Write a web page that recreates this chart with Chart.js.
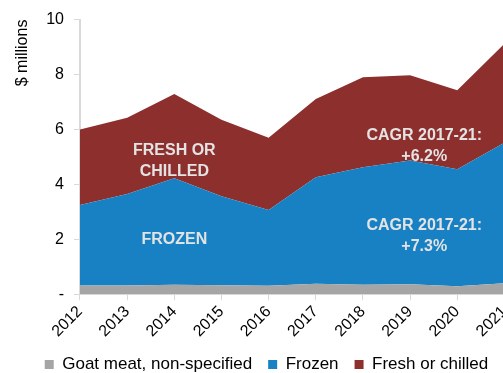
<!DOCTYPE html>
<html>
<head>
<meta charset="utf-8">
<script src="https://cdn.jsdelivr.net/npm/chart.js@4"></script>
<style>
  html, body { margin: 0; padding: 0; background: #fff; overflow: hidden; }
  #wrap { width: 503px; height: 373px; overflow: hidden; }
  #box { width: 520px; height: 373px; }
</style>
</head>
<body>
<div id="wrap"><div id="box"><canvas id="myChart"></canvas></div></div>
<script>
const years = ['2012', '2013', '2014', '2015', '2016', '2017', '2018', '2019', '2020', '2021'];
const goatOther = [0.32, 0.32, 0.35, 0.33, 0.31, 0.38, 0.35, 0.36, 0.29, 0.40];
const frozen = [2.93, 3.33, 3.87, 3.24, 2.76, 3.88, 4.27, 4.51, 4.26, 5.12];
const freshChilled = [2.75, 2.78, 3.07, 2.78, 2.63, 2.85, 3.28, 3.10, 2.88, 3.60];
const yTicks = [0, 2, 4, 6, 8, 10];

// text written inside the areas: [x index, y value, lines]
const areaLabels = [
    [2, 4.85, ['FRESH OR', 'CHILLED']],
    [2, 2.0, ['FROZEN']],
    [7.3, 5.4, ['CAGR 2017-21:', '+6.2%']],
    [7.3, 2.1, ['CAGR 2017-21:', '+7.3%']]
];

const axisGrey = '#d9d9d9';
const tickFont = { family: 'Liberation Sans, Arial, sans-serif', size: 16 };
const legendFont = { family: 'Liberation Sans, Arial, sans-serif', size: 17 };

const areaText = {
    id: 'areaText',
    afterDatasetsDraw(chart) {
        const { ctx, scales: { x, y } } = chart;
        ctx.save();
        ctx.fillStyle = '#e3e3e3';
        ctx.font = 'bold 16px Liberation Sans, Arial, sans-serif';
        ctx.textAlign = 'center';
        ctx.textBaseline = 'middle';
        areaLabels.forEach(([xi, yv, lines]) => {
            const px = x.getPixelForValue(xi);
            const py = y.getPixelForValue(yv);
            const start = py - (lines.length - 1) * 10.5;
            lines.forEach((t, i) => ctx.fillText(t, px, start + i * 21));
        });
        ctx.restore();
    }
};

const ctx = document.getElementById('myChart');

const myChart = new Chart(ctx, {
    type: 'line',
    data: {
        labels: years,
        datasets: [{
            label: 'Goat meat, non-specified',
            data: goatOther,
            backgroundColor: '#a5a5a5',
            fill: 'origin'
        }, {
            label: 'Frozen',
            data: frozen,
            backgroundColor: '#1781c3',
            fill: '-1'
        }, {
            label: 'Fresh or chilled',
            data: freshChilled,
            backgroundColor: '#8d302d',
            fill: '-1'
        }],
    },
    options: {
        responsive: true,
        maintainAspectRatio: false,
        animation: false,
        layout: { padding: { top: 6, left: 13, right: 0, bottom: -10 } },
        elements: {
            line: { borderWidth: 0, tension: 0 },
            point: { radius: 0 }
        },
        scales: {
            x: {
                offset: false,
                afterFit: (scale) => { scale.height -= 3; },
                grid: { drawOnChartArea: false, color: axisGrey, tickLength: 6 },
                border: { color: axisGrey, width: 2 },
                ticks: { color: '#000', font: tickFont, maxRotation: 45, minRotation: 45, padding: 2 }
            },
            y: {
                stacked: true,
                min: 0,
                max: 10,
                afterBuildTicks: (scale) => { scale.ticks = yTicks.map(v => ({ value: v })); },
                grid: { drawOnChartArea: false, color: axisGrey, tickLength: 6 },
                border: { color: axisGrey, width: 2 },
                ticks: {
                    color: '#000',
                    font: tickFont,
                    padding: 10,
                    callback: (v) => v === 0 ? '-' : v
                },
                title: {
                    display: true,
                    text: '$ millions',
                    align: 'end',
                    color: '#000',
                    font: tickFont,
                    padding: { top: 0, bottom: 4 }
                }
            }
        },
        plugins: {
            legend: {
                display: true,
                position: 'bottom',
                labels: {
                    color: '#000',
                    font: legendFont,
                    boxWidth: 9,
                    boxHeight: 9,
                    padding: 16
                }
            },
            tooltip: { enabled: false }
        }
    },
    plugins: [areaText]
});
</script>
</body>
</html>
